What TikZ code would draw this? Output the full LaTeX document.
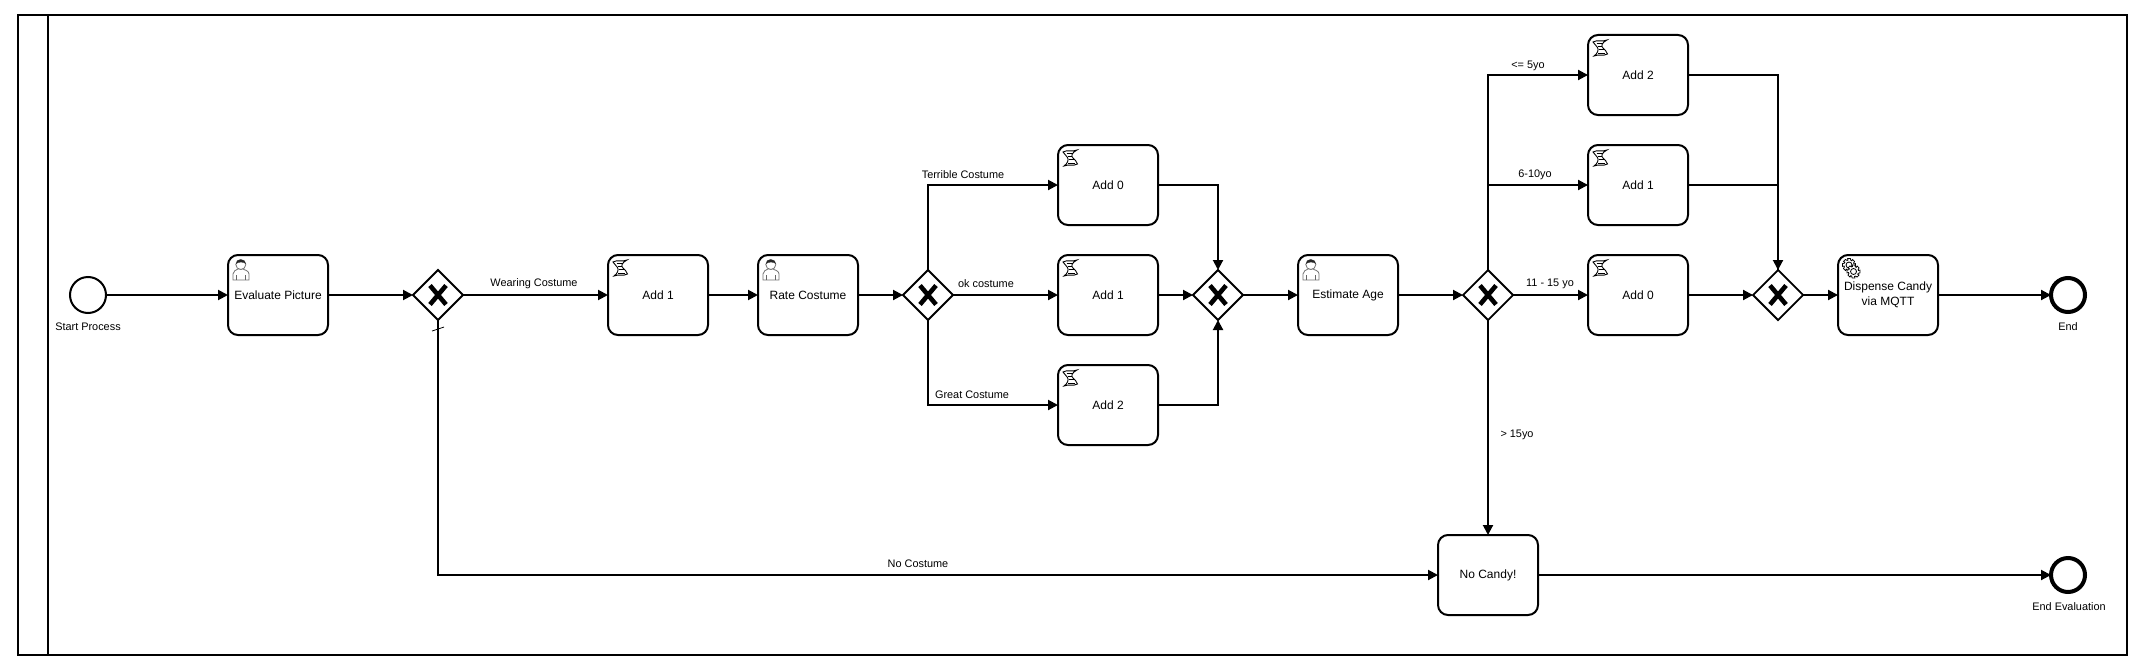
\documentclass[tikz,border=0pt]{standalone}
\usepackage{fontspec}
\setmainfont{Liberation Sans}
\usetikzlibrary{arrows.meta,shapes.geometric,calc}
\tikzset{
  flow/.style={line width=2pt,-{Triangle[length=10pt,width=10pt]}},
  plainflow/.style={line width=2pt},
  taskbox/.style={draw,line width=2pt,outer sep=0pt,rounded corners=10pt,minimum width=100pt,minimum height=80pt,inner sep=1pt,align=center,font=\fontsize{12}{15.5}\selectfont,fill=white},
  gatebox/.style={draw,diamond,aspect=1,line width=1.8pt,outer sep=0pt,minimum width=50pt,minimum height=50pt,inner sep=0pt,fill=white},
  startev/.style={draw,circle,line width=2pt,outer sep=0pt,minimum size=36pt,inner sep=0pt,fill=white},
  endev/.style={draw,circle,line width=4pt,outer sep=0pt,minimum size=34pt,inner sep=0pt,fill=white},
  lbl/.style={inner sep=0pt,font=\fontsize{10.9}{13}\selectfont},
  scripticon/.pic={
    \draw[line width=.9pt,fill=white] (5,7) .. controls (9,4.5) and (15,7) .. (19,5)
      .. controls (14,7.5) and (12.5,11) .. (15,13) .. controls (16.5,14.5) and (18.5,16) .. (19.5,19)
      .. controls (15,21.5) and (10,19) .. (6,21)
      .. controls (9.5,18.5) and (11,15) .. (9.5,12.5) .. controls (8.5,10.5) and (6,9) .. (5,7) -- cycle;
    \draw[line width=.7pt] (8.5,8) -- (15,8) (10,11) -- (14,11) (11,14.5) -- (15.5,14.5) (10,18) -- (17,18);
  },
  usericon/.pic={
    \draw[line width=.8pt,draw=black!55,fill=white] (5,25) -- (5,19) .. controls (5,16) and (8,15) .. (10,14) -- (15,14) .. controls (17,15) and (21,16) .. (21,19) -- (21,25) -- cycle;
    \draw[line width=.8pt,draw=black!60] (8.5,25) -- (8.5,20) (17.5,25) -- (17.5,20);
    \draw[line width=.8pt,draw=black!55,fill=white] (12.8,9.5) circle (5);
    \fill[black!85] (8,9) .. controls (7.5,3) and (17.5,3) .. (18,9) .. controls (16,6.8) and (10,6.8) .. (8,9) -- cycle;
  },
  geariconpart/.pic={
    \path[draw,line width=.8pt,fill=white] (-12:6.6)
      \foreach \a in {0,45,...,315}{ -- (\a-12:6.6) -- (\a+12:6.6) -- (\a+22:5) -- (\a+33:5) } -- cycle;
    \draw[line width=.8pt] (0,0) circle (3);
  },
}
\newcommand{\xmark}[1]{\draw[line width=4.6pt] ($(#1)+(-8,-9.5)$) -- ($(#1)+(8,9.5)$) ($(#1)+(8,-9.5)$) -- ($(#1)+(-8,9.5)$);}
\begin{document}
\begin{tikzpicture}[x=1pt,y=-1pt]
\useasboundingbox (0,0) rectangle (2143,669);
\fill[white] (0,0) rectangle (2143,669);
% pool
\draw[line width=2.4pt] (18,15) rectangle (2127,655);
\draw[line width=2.4pt] (48,15) -- (48,655);

% events
\node[startev] (start) at (88,295) {};
\node[endev] (endA) at (2068,295) {};
\node[endev] (endB) at (2068,575) {};
% tasks
\node[taskbox] (eval) at (278,295) {Evaluate Picture};
\node[taskbox] (addA) at (658,295) {Add 1};
\node[taskbox] (rate) at (808,295) {Rate Costume};
\node[taskbox] (tz) at (1108,185) {Add 0};
\node[taskbox] (to) at (1108,295) {Add 1};
\node[taskbox] (tt) at (1108,405) {Add 2};
\node[taskbox] (age) at (1348,295) {Estimate Age};
\node[taskbox] (atw) at (1638,75) {Add 2};
\node[taskbox] (aon) at (1638,185) {Add 1};
\node[taskbox] (aze) at (1638,295) {Add 0};
\node[taskbox] (disp) at (1888,295) {Dispense Candy\\via MQTT};
\node[taskbox] (none) at (1488,575) {No Candy!};
% gateways
\node[gatebox] (gA) at (438,295) {};
\node[gatebox] (gB) at (928,295) {};
\node[gatebox] (gC) at (1218,295) {};
\node[gatebox] (gD) at (1488,295) {};
\node[gatebox] (gE) at (1778,295) {};
\xmark{gA}\xmark{gB}\xmark{gC}\xmark{gD}\xmark{gE}

% icons
\pic at (eval.north west) {usericon};
\pic at (rate.north west) {usericon};
\pic at (age.north west) {usericon};
\foreach \n in {addA,tz,to,tt,atw,aon,aze}{\pic at (\n.north west) {scripticon};}
\pic at ($(disp.north west)+(11,10)$) {geariconpart};
\pic at ($(disp.north west)+(15.5,16.5)$) {geariconpart};

% flows
\draw[flow] (start) -- (eval);
\draw[flow] (eval) -- (gA);
\draw[flow] (gA) -- (addA);
\draw[flow] (addA) -- (rate);
\draw[flow] (rate) -- (gB);
\draw[flow] (gB.north) |- (tz);
\draw[flow] (gB) -- (to);
\draw[flow] (gB.south) |- (tt);
\draw[flow] (tz) -| (gC.north);
\draw[flow] (to) -- (gC);
\draw[flow] (tt) -| (gC.south);
\draw[flow] (gC) -- (age);
\draw[flow] (age) -- (gD);
\draw[flow] (gD.north) |- (atw);
\draw[flow] (gD.north) |- (aon);
\draw[flow] (gD) -- (aze);
\draw[flow] (gD.south) -- (none);
\draw[flow] (atw) -| (gE.north);
\draw[plainflow] (aon) -| (gE.north);
\draw[flow] (aze) -- (gE);
\draw[flow] (gE) -- (disp);
\draw[flow] (disp) -- (endA.west);
\draw[flow] (none) -- (endB.west);
\draw[flow] (gA.south) |- (none);
\draw[line width=.8pt] ($(gA.south)+(-6,11)$) -- ($(gA.south)+(6,7)$);

% labels
\node[lbl] (l1) at (534,284) {Wearing Costume};
\node[lbl] (l2) at (963,175) {Terrible Costume};
\node[lbl] (l3) at (986,284) {ok costume};
\node[lbl] (l4) at (972,394.5) {Great Costume};
\node[lbl] (l5) at (1528,65.5) {<= 5yo};
\node[lbl] (l6) at (1535,175) {6-10yo};
\node[lbl] (l7) at (1550,284) {11 - 15 yo};
\node[lbl] (l8) at (1517,435) {> 15yo};
\node[lbl] (l9) at (918,564) {No Costume};
\node[lbl] (l10) at (88,327) {Start Process};
\node[lbl] (l11) at (2068,327) {End};
\node[lbl] (l12) at (2069,607) {End Evaluation};
\end{tikzpicture}
\end{document}
